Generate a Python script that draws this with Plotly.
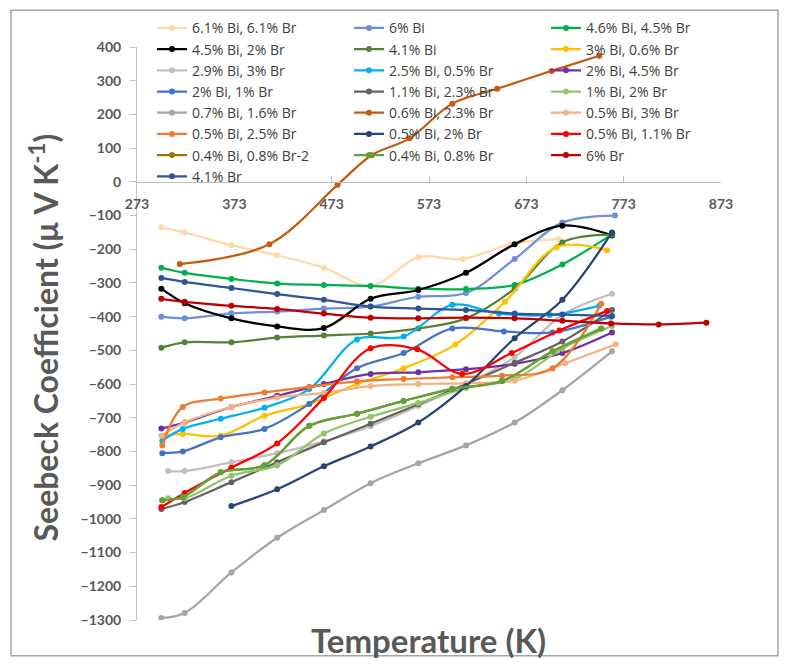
import plotly.graph_objects as go

# Measurement temperature grids (K)
T_A = [298, 322, 370, 417, 465, 513, 562, 611, 661, 710, 761]
T_B = [299, 320, 359, 404, 450, 499, 547, 597, 648, 700, 750]

labels = [
    "6.1% Bi, 6.1% Br", "6% Bi", "4.6% Bi, 4.5% Br",
    "4.5% Bi, 2% Br", "4.1% Bi", "3% Bi, 0.6% Br",
    "2.9% Bi, 3% Br", "2.5% Bi, 0.5% Br", "2% Bi, 4.5% Br",
    "2% Bi, 1% Br", "1.1% Bi, 2.3% Br", "1% Bi, 2% Br",
    "0.7% Bi, 1.6% Br", "0.6% Bi, 2.3% Br", "0.5% Bi, 3% Br",
    "0.5% Bi, 2.5% Br", "0.5% Bi, 2% Br", "0.5% Bi, 1.1% Br",
    "0.4% Bi, 0.8% Br-2", "0.4% Bi, 0.8% Br", "6% Br",
    "4.1% Br",
]

colors = [
    "#FFD9A8", "#6F8FD8", "#00B050",
    "#000000", "#548235", "#FFC000",
    "#BFBFBF", "#00B0F0", "#7030A0",
    "#4472C4", "#636363", "#92C46D",
    "#A5A5A5", "#C55A11", "#F4B183",
    "#ED7D31", "#264478", "#FF0000",
    "#9E7700", "#5FA33A", "#C00000",
    "#2F5597",
]

temps = [
    [298, 322, 370, 417, 465, 513, 562, 608, 657, 706],
    [298, 322, 370, 417, 465, 513, 562, 611, 661, 710, 764],
    T_A,
    T_A,
    T_A,
    [299, 320, 359, 404, 450, 499, 547, 600, 651, 704, 756],
    [305, 322, 370, 417, 465, 513, 562, 611, 661, 710, 761],
    [299, 320, 359, 404, 450, 499, 547, 597, 645, 697, 748],
    T_A,
    [299, 320, 359, 404, 450, 499, 547, 597, 650, 700, 760],
    T_A,
    [305, 322, 370, 417, 465, 513, 562, 611, 661, 710, 761],
    T_A,
    [317, 409, 479, 514, 553, 597, 643, 699, 748],
    [298, 322, 370, 417, 465, 513, 562, 611, 661, 713, 765],
    T_B,
    [370, 417, 465, 513, 562, 611, 661, 710, 761],
    [298, 322, 370, 417, 465, 513, 561, 607, 658, 707, 756],
    T_B,
    T_B,
    [298, 322, 370, 417, 465, 513, 562, 611, 661, 710, 760, 809, 858],
    T_A,
]

seebeck = [
    [-135, -150, -188, -218, -255, -309, -224, -229, -185, -170],
    [-400, -405, -390, -385, -376, -370, -341, -330, -229, -121, -100],
    [-255, -270, -288, -302, -306, -309, -317, -318, -306, -245, -156],
    [-317, -360, -405, -429, -434, -347, -321, -270, -185, -130, -159],
    [-492, -476, -476, -462, -456, -450, -435, -405, -317, -180, -157],
    [-753, -748, -753, -694, -659, -600, -553, -483, -356, -194, -203],
    [-858, -858, -832, -805, -770, -725, -665, -600, -520, -395, -332],
    [-768, -733, -703, -670, -615, -468, -459, -365, -391, -395, -368],
    [-732, -714, -668, -635, -600, -570, -565, -556, -540, -508, -447],
    [-805, -800, -758, -733, -659, -553, -508, -435, -444, -447, -400],
    [-971, -950, -891, -832, -773, -718, -660, -600, -537, -474, -380],
    [-939, -939, -872, -841, -747, -697, -656, -612, -585, -495, -428],
    [-1294, -1279, -1159, -1056, -974, -894, -835, -782, -714, -618, -503],
    [-244, -185, -9, 79, 129, 232, 276, 329, 374],
    [-753, -714, -668, -640, -626, -606, -600, -597, -590, -538, -482],
    [-782, -668, -643, -625, -608, -592, -585, -580, -575, -553, -362],
    [-962, -912, -844, -785, -714, -606, -464, -350, -150],
    [-965, -923, -848, -776, -641, -494, -497, -570, -508, -441, -383],
    [-945, -935, -862, -841, -724, -688, -650, -614, -591, -503, -435],
    [-945, -935, -862, -841, -724, -688, -650, -614, -591, -503, -435],
    [-347, -356, -368, -377, -391, -403, -405, -403, -405, -412, -420, -423, -418],
    [-285, -297, -315, -333, -350, -370, -376, -380, -391, -394, -398],
]

x_ticks = [273, 373, 473, 573, 673, 773, 873]

FONT = "Lato"
GREY = "#595959"

fig = go.Figure()
legend_ids = ["legend", "legend2", "legend3"]
for i, (name, col, tx, sy) in enumerate(zip(labels, colors, temps, seebeck)):
    fig.add_trace(go.Scatter(
        x=tx, y=sy, name=name, mode="lines+markers",
        line=dict(color=col, width=2.25, shape="spline", smoothing=1.0),
        marker=dict(color=col, size=6),
        legend=legend_ids[i % 3],
    ))

W, H = 785, 665
ML, MR, MT, MB = 137, 64, 42, 45
PW, PH = W - ML - MR, H - MT - MB


def px_x(p):
    return (p - ML) / PW


def px_y(p):
    return (H - MB - p) / PH


legend_style = dict(
    font=dict(family="Open Sans", size=14, color="#404040"),
    bgcolor="rgba(0,0,0,0)", borderwidth=0,
    xanchor="left", yanchor="top", y=px_y(7), tracegroupgap=0,
)

fig.update_layout(
    width=W, height=H,
    margin=dict(l=ML, r=MR, t=MT, b=MB),
    paper_bgcolor="white", plot_bgcolor="white",
    font=dict(family=FONT, color=GREY),
    legend=dict(x=px_x(152), **legend_style),
    legend2=dict(x=px_x(349), **legend_style),
    legend3=dict(x=px_x(546), **legend_style),
    xaxis=dict(
        range=[273, 873], tickvals=x_ticks, ticktext=[str(v) for v in x_ticks],
        anchor="free", position=1300 / 1700,
        showline=True, linecolor="#BFBFBF", linewidth=1,
        ticks="inside", ticklen=6, tickcolor="#BFBFBF",
        showgrid=False, zeroline=False,
        tickfont=dict(family=FONT, size=14, color=GREY, weight="bold"),
        ticklabelstandoff=9,
    ),
    yaxis=dict(
        range=[-1300, 400], dtick=100,
        showline=True, linecolor="#BFBFBF", linewidth=1,
        ticks="outside", ticklen=6, tickcolor="#BFBFBF",
        showgrid=False, zeroline=False,
        tickfont=dict(family=FONT, size=14, color=GREY, weight="bold"),
        ticklabelstandoff=6,
    ),
    shapes=[dict(
        type="rect", xref="paper", yref="paper",
        x0=px_x(11), x1=px_x(778), y0=px_y(656), y1=px_y(5),
        line=dict(color="#A6A6A6", width=1.5), fillcolor="rgba(0,0,0,0)",
        layer="below",
    )],
    annotations=[
        dict(text="Seebeck Coefficient (\u03bc V K<sup>-1</sup>)", textangle=-90,
             xref="paper", yref="paper", x=px_x(44), y=px_y(335),
             showarrow=False, xanchor="center", yanchor="middle",
             font=dict(family=FONT, size=32, color=GREY, weight="bold")),
        dict(text="Temperature (K)",
             xref="paper", yref="paper", x=px_x(428), y=px_y(640),
             showarrow=False, xanchor="center", yanchor="middle",
             font=dict(family=FONT, size=33, color=GREY, weight="bold")),
    ],
)

fig.write_html("out.html")
